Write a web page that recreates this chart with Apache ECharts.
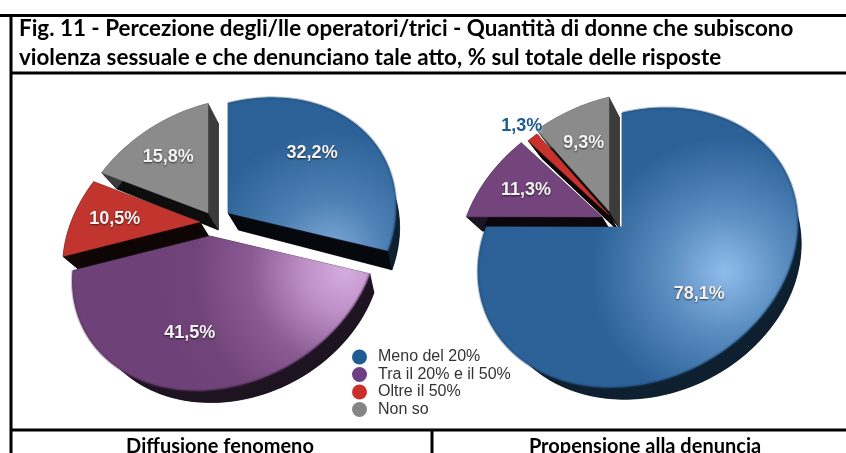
<!DOCTYPE html>
<html><head><meta charset="utf-8">
<style>html,body{margin:0;padding:0;background:#fff}#c{width:846px;height:453px}</style>
<script src="https://cdn.jsdelivr.net/npm/echarts@6/dist/echarts.min.js"></script>
</head><body><div id="c"></div>
<script>
// ---- data ----
const categories = ['Meno del 20%', 'Tra il 20% e il 50%', 'Oltre il 50%', 'Non so'];
const diffusioneValues = [32.2, 41.5, 10.5, 15.8];
const denunciaValues = [78.1, 11.3, 1.3, 9.3];
const chartTitle = 'Fig. 11 - Percezione degli/lle operatori/trici - Quantità di donne che subiscono\nviolenza sessuale e che denunciano tale atto, % sul totale delle risposte';
const pieTitles = ['Diffusione fenomeno', 'Propensione alla denuncia'];

// ---- layout / style ----
const pieValues = [diffusioneValues, denunciaValues];
const persp = {g: -0.098, h: -0.168};
const pieGeom = [
  {a: 149, d: -27, e: 128, apex: [[228,213],[210,236],[200,222],[208,213]]},
  {a: 156, d: -26, e: 133, apex: [[622,227],[602,217],[609,215],[609,211]]}
];
const legendColors = ['#1f5c94', '#6f3f85', '#c9302c', '#858585'];
const sideColors = ['#0e1f30', '#1e1320', '#120808', '#3b3c3b'];
const edgeColors = ['#05090d', '#0b070c', '#0e0505', '#0d0d0d'];
const rad = (x, y, r, stops) => new echarts.graphic.RadialGradient(x, y, r,
  stops.map((c, i) => ({offset: c[0], color: c[1]})), true);
const faceFill = [
  [rad(330, 255, 125, [[0,'#80acda'],[0.45,'#4d80b3'],[1,'#2b6197']]),
   rad(345, 272, 190, [[0,'#d6abdf'],[0.2,'#c093c8'],[0.5,'#8a5b93'],[0.8,'#714479'],[1,'#6e4178']]),
   '#c1352e', '#8a8b8a'],
  [rad(725, 272, 135, [[0,'#8fbdeb'],[0.45,'#5a8cbf'],[1,'#2b6197']]),
   '#74457c', '#c9322c', '#8a8b8a']
];

function project(geo, apex, deg, extruded) {
  const t = deg * Math.PI / 180, u = Math.sin(t), v = -Math.cos(t);
  const w = 1 + persp.g * u + persp.h * v;
  const x = geo.a * u / w, y = (geo.d * u + geo.e * v) / w;
  return extrude(apex[0] + x, apex[1] + y, x, y, extruded);
}
function extrude(X, Y, x, y, on) {
  if (!on) return [X, Y];
  return [X + 10.5 - 0.04 * x, Y + 17 + 0.02 * x - 0.03 * y];
}
function arc(geo, apex, from, to, ex) {
  const pts = [], n = Math.max(2, Math.ceil((to - from) / 2));
  for (let i = 0; i <= n; i++) pts.push(project(geo, apex, from + (to - from) * i / n, ex));
  return pts;
}

function renderSlice(catIdx) {
  return function (params, api) {
    const pie = api.value(0), value = api.value(1);
    const geo = pieGeom[pie], apex = geo.apex[catIdx];
    const before = pieValues[pie].slice(0, catIdx).reduce((s, x) => s + x, 0);
    const from = before * 3.6, to = (before + value) * 3.6, mid = (from + to) / 2;
    const top = arc(geo, apex, from, to, false), bot = arc(geo, apex, from, to, true);
    const apexBot = extrude(apex[0], apex[1], 0, 0, true);
    const poly = (points, fill, z2) => ({type: 'polygon', shape: {points}, z2: z2,
      style: {fill: fill, stroke: fill, lineWidth: 0.4}, silent: true});
    const children = [
      poly([apexBot].concat(bot), edgeColors[catIdx], 1),
      poly([apex, top[0], bot[0], apexBot], edgeColors[catIdx], 2),
      poly([apex, top[top.length - 1], bot[bot.length - 1], apexBot], sideColors[catIdx] === '#3b3c3b' ? sideColors[catIdx] : edgeColors[catIdx], 2),
      poly(top.concat(bot.slice().reverse()), sideColors[catIdx], 2),
      poly([apex].concat(top), faceFill[pie][catIdx], 3)
    ];
    if (catIdx < 2 && !(pie === 1 && catIdx === 1)) {
      children.push({type: 'polyline', shape: {points: top}, z2: 4, silent: true,
        style: {fill: null, stroke: catIdx === 0 ? '#1f4f80' : '#5c3564', lineWidth: 3, opacity: 0.35}});
    }
    const small = value < 2;
    const lab = project(geo, [0, 0], mid, false);
    const f = small ? 1.14 : (value > 40 ? 0.63 : 0.67);
    children.push({type: 'text', z2: 50, silent: true,
      x: apex[0] + lab[0] * f, y: apex[1] + lab[1] * f,
      style: {text: value.toFixed(1).replace('.', ',') + '%', align: 'center', verticalAlign: 'middle',
        font: 'bold 18px "Liberation Sans", Arial, sans-serif',
        fill: small ? '#1f5c94' : '#f4f4f4',
        textShadowColor: small ? 'rgba(255,255,255,0.6)' : 'rgba(0,0,0,0.65)', textShadowBlur: 2, textShadowOffsetY: 1}});
    return {type: 'group', children};
  };
}

const black = {stroke: '#000', lineWidth: 3};
const line = (x1, y1, x2, y2) => ({type: 'line', shape: {x1, y1, x2, y2}, style: black, silent: true});

const chart = echarts.init(document.getElementById('c'), null, {renderer: 'canvas'});
chart.setOption({
  animation: false,
  backgroundColor: '#fff',
  title: [
    {text: chartTitle, left: 14, top: 9,
     textStyle: {fontFamily: 'Lato', fontWeight: 'bold', fontSize: 22.4, lineHeight: 29, color: '#000'}},
    {text: pieTitles[0], left: 215, top: 432, textAlign: 'center',
     textStyle: {fontFamily: 'Lato', fontWeight: 'bold', fontSize: 20, color: '#000'}},
    {text: pieTitles[1], left: 640, top: 432, textAlign: 'center',
     textStyle: {fontFamily: 'Lato', fontWeight: 'bold', fontSize: 20, color: '#000'}}
  ],
  legend: {
    orient: 'vertical', left: 347, top: 344, itemWidth: 15, itemHeight: 15, itemGap: 1.5, icon: 'circle',
    data: categories, selectedMode: false,
    textStyle: {fontFamily: '"Liberation Sans"', fontSize: 16, color: '#333', padding: [0, 0, 0, 6]}
  },
  graphic: [
    line(0, 15.5, 846, 15.5), line(11, 15, 11, 453), line(10, 73, 846, 73),
    line(10, 430, 846, 430), line(432, 430, 432, 453)
  ],
  series: categories.map((name, i) => ({
    type: 'custom', name, coordinateSystem: 'none', z: 2,
    itemStyle: {color: legendColors[i]},
    renderItem: renderSlice(i),
    data: pieValues.map((vals, p) => [p, vals[i]])
  }))
});
</script></body></html>
